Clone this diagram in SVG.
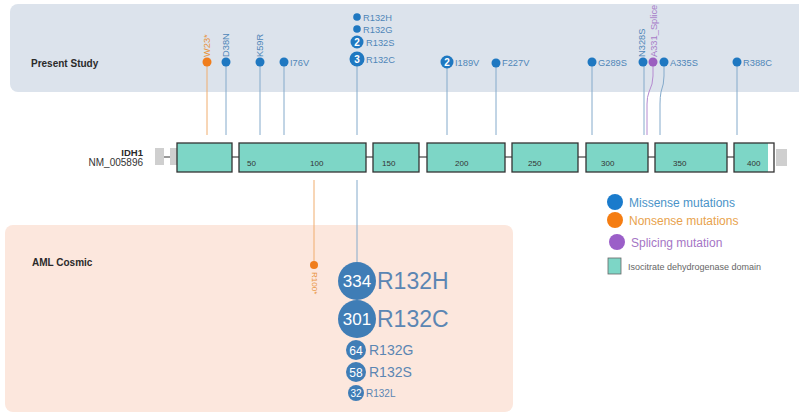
<svg xmlns="http://www.w3.org/2000/svg" width="799" height="414" viewBox="0 0 799 414">
<style>
text{font-family:"Liberation Sans",Arial,sans-serif}
.lab{font-size:9.3px;fill:#4f86b8}
.ttl{font-size:10px;font-weight:bold;fill:#2a2a2a}
.exon{fill:#7dd6c6;stroke:#333;stroke-width:1.3}
.num{font-size:8px;fill:#333}
.stem{stroke:#84aacb;stroke-width:1;fill:none}
.ostem{stroke:#f0ad6e;stroke-width:1;fill:none}
.pstem{stroke:#b58ad0;stroke-width:1;fill:none}
.mis{fill:#1f78c1}
.non{fill:#f07d1c}
.spl{fill:#9b5fc0}
.cn{fill:#fff;font-weight:bold;text-anchor:middle}
.big{fill:#3f7db6}
.blab{fill:#5b86b3}
</style>
<g id="present-study-bg">
<rect x="10" y="4" width="800" height="88" rx="8" fill="#dce3ec"/>
<text x="31" y="67" class="ttl">Present Study</text>
</g>
<g id="aml-bg">
<rect x="5" y="225" width="508" height="187" rx="8" fill="#fce7dd"/>
<text x="32" y="266" class="ttl">AML Cosmic</text>
</g>
<g id="connectors">
<line x1="207" y1="62" x2="207" y2="135" class="ostem"/>
<line x1="226" y1="62" x2="226" y2="135" class="stem"/>
<line x1="260" y1="62" x2="260" y2="135" class="stem"/>
<line x1="284" y1="62" x2="284" y2="135" class="stem"/>
<line x1="357" y1="59" x2="357" y2="135" class="stem"/>
<line x1="447" y1="62" x2="447" y2="135" class="stem"/>
<line x1="496" y1="63" x2="496" y2="135" class="stem"/>
<line x1="592" y1="62" x2="592" y2="135" class="stem"/>
<line x1="644" y1="62" x2="644" y2="135" class="stem"/>
<path d="M653 62 V76 Q653 84 649 92 Q647 97 647 104 V135" class="pstem"/>
<path d="M664 62 V76 Q664 84 661 92 Q660 97 660 104 V135" class="stem"/>
<line x1="737" y1="62" x2="737" y2="135" class="stem"/>
<line x1="314" y1="180" x2="314" y2="265" class="ostem"/>
<line x1="357" y1="180" x2="357" y2="262" class="stem"/>
</g>
<g id="gene">
<text x="143" y="156" class="ttl" text-anchor="end" style="font-size:9.5px">IDH1</text>
<text x="143" y="166" text-anchor="end" style="font-size:10px;fill:#333">NM_005896</text>
<rect x="155" y="148" width="9" height="17" fill="#cfcfcf"/>
<rect x="170" y="148" width="8" height="17" fill="#cfcfcf"/>
<line x1="164" y1="157" x2="170" y2="157" stroke="#555" stroke-width="1.2"/>
<rect x="776" y="149" width="11" height="17" fill="#cfcfcf"/>
<g stroke="#444" stroke-width="1.2">
<line x1="232" y1="157" x2="239" y2="157"/>
<line x1="366" y1="157" x2="373" y2="157"/>
<line x1="419" y1="157" x2="427" y2="157"/>
<line x1="505" y1="157" x2="512" y2="157"/>
<line x1="578" y1="157" x2="586" y2="157"/>
<line x1="648" y1="157" x2="655" y2="157"/>
<line x1="727" y1="157" x2="734" y2="157"/>
</g>
<rect x="177" y="143" width="55" height="29" class="exon"/>
<rect x="239" y="143" width="127" height="29" class="exon"/>
<rect x="373" y="143" width="46" height="29" class="exon"/>
<rect x="427" y="143" width="78" height="29" class="exon"/>
<rect x="512" y="143" width="66" height="29" class="exon"/>
<rect x="586" y="143" width="62" height="29" class="exon"/>
<rect x="655" y="143" width="72" height="29" class="exon"/>
<rect x="734" y="143" width="40" height="29" fill="#fff"/>
<rect x="734" y="143" width="34" height="29" fill="#7dd6c6"/>
<rect x="734" y="143" width="40" height="29" fill="none" stroke="#333" stroke-width="1.3"/>
<text x="247" y="166" class="num">50</text>
<text x="310" y="166" class="num">100</text>
<text x="382" y="166" class="num">150</text>
<text x="455" y="166" class="num">200</text>
<text x="528" y="166" class="num">250</text>
<text x="601" y="166" class="num">300</text>
<text x="673" y="166" class="num">350</text>
<text x="747" y="166" class="num">400</text>
</g>
<g id="W23">
<circle cx="207" cy="62" r="4.5" class="non"/>
<text transform="translate(210,57) rotate(-90)" style="font-size:9.3px;fill:#e8923a">W23*</text>
</g>
<g id="D38N">
<circle cx="226" cy="62" r="4.5" class="mis"/>
<text transform="translate(229,57) rotate(-90)" class="lab">D38N</text>
</g>
<g id="K59R">
<circle cx="260" cy="62" r="4.5" class="mis"/>
<text transform="translate(263,57) rotate(-90)" class="lab">K59R</text>
</g>
<g id="I76V">
<circle cx="284" cy="62" r="4.5" class="mis"/>
<text x="290" y="66" class="lab">I76V</text>
</g>
<g id="R132-top">
<circle cx="357" cy="17" r="3.8" class="mis"/>
<text x="363" y="21" class="lab">R132H</text>
<circle cx="357" cy="29" r="3.8" class="mis"/>
<text x="363" y="33" class="lab">R132G</text>
<circle cx="357" cy="42" r="6.5" class="mis"/>
<text x="357" y="46" class="cn" style="font-size:10px">2</text>
<text x="366" y="46" class="lab">R132S</text>
<circle cx="357" cy="59" r="7.5" class="mis"/>
<text x="357" y="63" class="cn" style="font-size:10px">3</text>
<text x="366" y="63" class="lab">R132C</text>
</g>
<g id="I189V">
<circle cx="447" cy="62" r="6.5" class="mis"/>
<text x="447" y="66" class="cn" style="font-size:10px">2</text>
<text x="455" y="66" class="lab">I189V</text>
</g>
<g id="F227V">
<circle cx="496" cy="63" r="4.5" class="mis"/>
<text x="502" y="66" class="lab">F227V</text>
</g>
<g id="G289S">
<circle cx="592" cy="62" r="4.5" class="mis"/>
<text x="598" y="66" class="lab">G289S</text>
</g>
<g id="N328S">
<circle cx="643" cy="62" r="4.5" class="mis"/>
<text transform="translate(645,57) rotate(-90)" class="lab">N328S</text>
</g>
<g id="A331_Splice">
<circle cx="653" cy="62" r="4.5" class="spl"/>
<text transform="translate(657,57) rotate(-90)" style="font-size:9.3px;fill:#a77cc8">A331_Splice</text>
</g>
<g id="A335S">
<circle cx="664" cy="62" r="4.5" class="mis"/>
<text x="670" y="66" class="lab">A335S</text>
</g>
<g id="R388C">
<circle cx="737" cy="62" r="4.5" class="mis"/>
<text x="743" y="66" class="lab">R388C</text>
</g>
<g id="R100">
<circle cx="314" cy="265" r="4" class="non"/>
<text transform="translate(312,272) rotate(90)" style="font-size:8px;fill:#e8923a">R100*</text>
</g>
<g id="R132H-aml">
<circle cx="357" cy="281" r="19" class="big"/>
<text x="357" y="287" class="cn" style="font-size:17px;font-weight:normal">334</text>
<text x="377" y="289" class="blab" style="font-size:23px">R132H</text>
</g>
<g id="R132C-aml">
<circle cx="357" cy="319" r="19" class="big"/>
<text x="357" y="325" class="cn" style="font-size:17px;font-weight:normal">301</text>
<text x="377" y="327" class="blab" style="font-size:23px">R132C</text>
</g>
<g id="R132G-aml">
<circle cx="356" cy="350" r="10" class="big"/>
<text x="356" y="355" class="cn" style="font-size:12px;font-weight:normal">64</text>
<text x="369" y="355" class="blab" style="font-size:14px">R132G</text>
</g>
<g id="R132S-aml">
<circle cx="356" cy="372" r="10" class="big"/>
<text x="356" y="377" class="cn" style="font-size:12px;font-weight:normal">58</text>
<text x="369" y="377" class="blab" style="font-size:14px">R132S</text>
</g>
<g id="R132L-aml">
<circle cx="356" cy="393" r="8" class="big"/>
<text x="356" y="397" class="cn" style="font-size:10px;font-weight:normal">32</text>
<text x="366" y="397" class="blab" style="font-size:10px">R132L</text>
</g>
<g id="legend">
<circle cx="615" cy="202" r="8" fill="#1a7bcc"/>
<text x="629" y="207" style="font-size:12px;fill:#4a93c8">Missense mutations</text>
<circle cx="615" cy="220" r="8" fill="#f57d12"/>
<text x="629" y="225" style="font-size:12px;fill:#e8a24c">Nonsense mutations</text>
<circle cx="617" cy="242" r="8" fill="#9b5fc8"/>
<text x="631" y="247" style="font-size:12px;fill:#a575c5">Splicing mutation</text>
<rect x="608" y="258" width="13" height="16" fill="#7dd6c6" stroke="#666" stroke-width="0.8"/>
<text x="628" y="270" style="font-size:9px;fill:#666">Isocitrate dehydrogenase domain</text>
</g>
</svg>
